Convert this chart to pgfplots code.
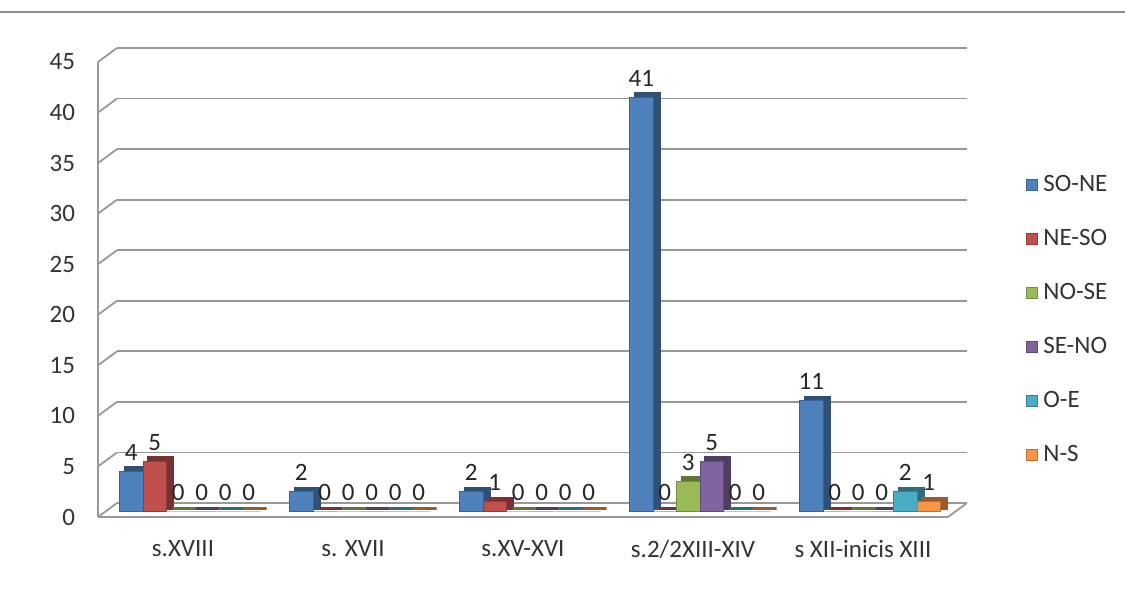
\documentclass[border=0pt]{standalone}
\usepackage{pgfplots}
\pgfplotsset{compat=1.18}
\usepackage{pgfplotstable}
\usepackage{fontspec}
\setmainfont{Carlito}

\definecolor{cSONE}{HTML}{4F81BD}
\definecolor{cNESO}{HTML}{C0504D}
\definecolor{cNOSE}{HTML}{9BBB59}
\definecolor{cSENO}{HTML}{8064A2}
\definecolor{cOE}{HTML}{4BACC6}
\definecolor{cNS}{HTML}{F79646}
\colorlet{framecol}{black!40}

% one row per period, one column per orientation
\pgfplotstableread{
x sone neso nose seno oe ns
0 4  5 0 0 0 0
1 2  0 0 0 0 0
2 2  1 0 0 0 0
3 41 0 3 5 0 0
4 11 0 0 0 2 1
}\dirdata

\newcommand{\lblfont}{\fontsize{12.5}{14}\selectfont}

\pgfplotsset{
  base/.style={
    anchor=south west, scale only axis,
    width=425pt, height=227.5pt,
    xmin=-0.5, xmax=4.5, ymin=0, ymax=45,
    /pgf/number format/assume math mode=true,
  },
  shadow/.style={ybar, forget plot, fill=#1!62!black, draw=#1!62!black,
    line width=1.6pt, xshift=3pt, yshift=1.8pt},
  front/.style={ybar, fill=#1, draw=#1!75!black, line width=0.5pt},
}

\begin{document}
\begin{tikzpicture}[font=\lblfont]
\useasboundingbox (0,0) rectangle (562.5pt,298.5pt);
\draw[black!45, line width=1pt] (0,292.5pt) -- (562.5pt,292.5pt);

% back wall: grid lines
\begin{axis}[base, at={(58.5pt,47pt)},
    ytick={0,5,...,45}, xtick=\empty, yticklabels={},
    ymajorgrids, grid style={framecol, line width=0.9pt},
    axis line style={draw=none}, major tick length=0pt]
\end{axis}

% front frame and tick labels
\begin{axis}[base, at={(49pt,40pt)}, clip=false,
    axis lines*=left,
    axis line style={framecol, line width=0.9pt},
    ytick={0,5,...,45},
    xtick={0,...,4},
    xticklabels={s.XVIII, s. XVII, s.XV-XVI, s.2/2XIII-XIV, s XII-inicis XIII},
    major tick length=0pt,
    tick label style={font=\lblfont, text=black!80},
    yticklabel style={xshift=-8pt},
    xticklabel style={yshift=-8pt}]
\pgfplotsinvokeforeach{0,5,...,45}{
  \draw[framecol, line width=0.9pt] (axis cs:-0.5,#1) -- ++(9.5pt,7pt);
}
\draw[framecol, line width=0.9pt] (axis cs:4.5,0) -- ++(9.5pt,7pt);
\end{axis}

% bars
\begin{axis}[base, at={(52.5pt,42.5pt)}, hide axis, clip=false,
    ybar=0pt, bar width=11.75pt,
    nodes near coords,
    every node near coord/.append style={font=\lblfont, text=black!85, yshift=2pt},
    legend cell align=left,
    legend image code/.code={\fill[#1] (0pt,-2.75pt) rectangle (5.5pt,2.75pt);},
    legend style={at={(1.0835,0.754)}, anchor=north west, draw=none, fill=none,
      inner sep=0pt, row sep=11pt,
      /tikz/every odd column/.append style={column sep=0.5pt},
      nodes={inner sep=2pt, text height=9pt, text depth=3pt, font=\lblfont, text=black!80}}]
\addplot[shadow=cSONE, bar shift=-29.375pt, nodes near coords=\empty] table[x=x,y=sone]{\dirdata};
\addplot[front=cSONE, bar shift=-29.375pt] table[x=x,y=sone]{\dirdata};
\addplot[shadow=cNESO, bar shift=-17.625pt, nodes near coords=\empty] table[x=x,y=neso]{\dirdata};
\addplot[front=cNESO, bar shift=-17.625pt] table[x=x,y=neso]{\dirdata};
\addplot[shadow=cNOSE, bar shift=-5.875pt, nodes near coords=\empty] table[x=x,y=nose]{\dirdata};
\addplot[front=cNOSE, bar shift=-5.875pt] table[x=x,y=nose]{\dirdata};
\addplot[shadow=cSENO, bar shift=5.875pt, nodes near coords=\empty] table[x=x,y=seno]{\dirdata};
\addplot[front=cSENO, bar shift=5.875pt] table[x=x,y=seno]{\dirdata};
\addplot[shadow=cOE, bar shift=17.625pt, nodes near coords=\empty] table[x=x,y=oe]{\dirdata};
\addplot[front=cOE, bar shift=17.625pt] table[x=x,y=oe]{\dirdata};
\addplot[shadow=cNS, bar shift=29.375pt, nodes near coords=\empty] table[x=x,y=ns]{\dirdata};
\addplot[front=cNS, bar shift=29.375pt] table[x=x,y=ns]{\dirdata};
\legend{SO-NE, NE-SO, NO-SE, SE-NO, O-E, N-S}
\end{axis}
\end{tikzpicture}
\end{document}
